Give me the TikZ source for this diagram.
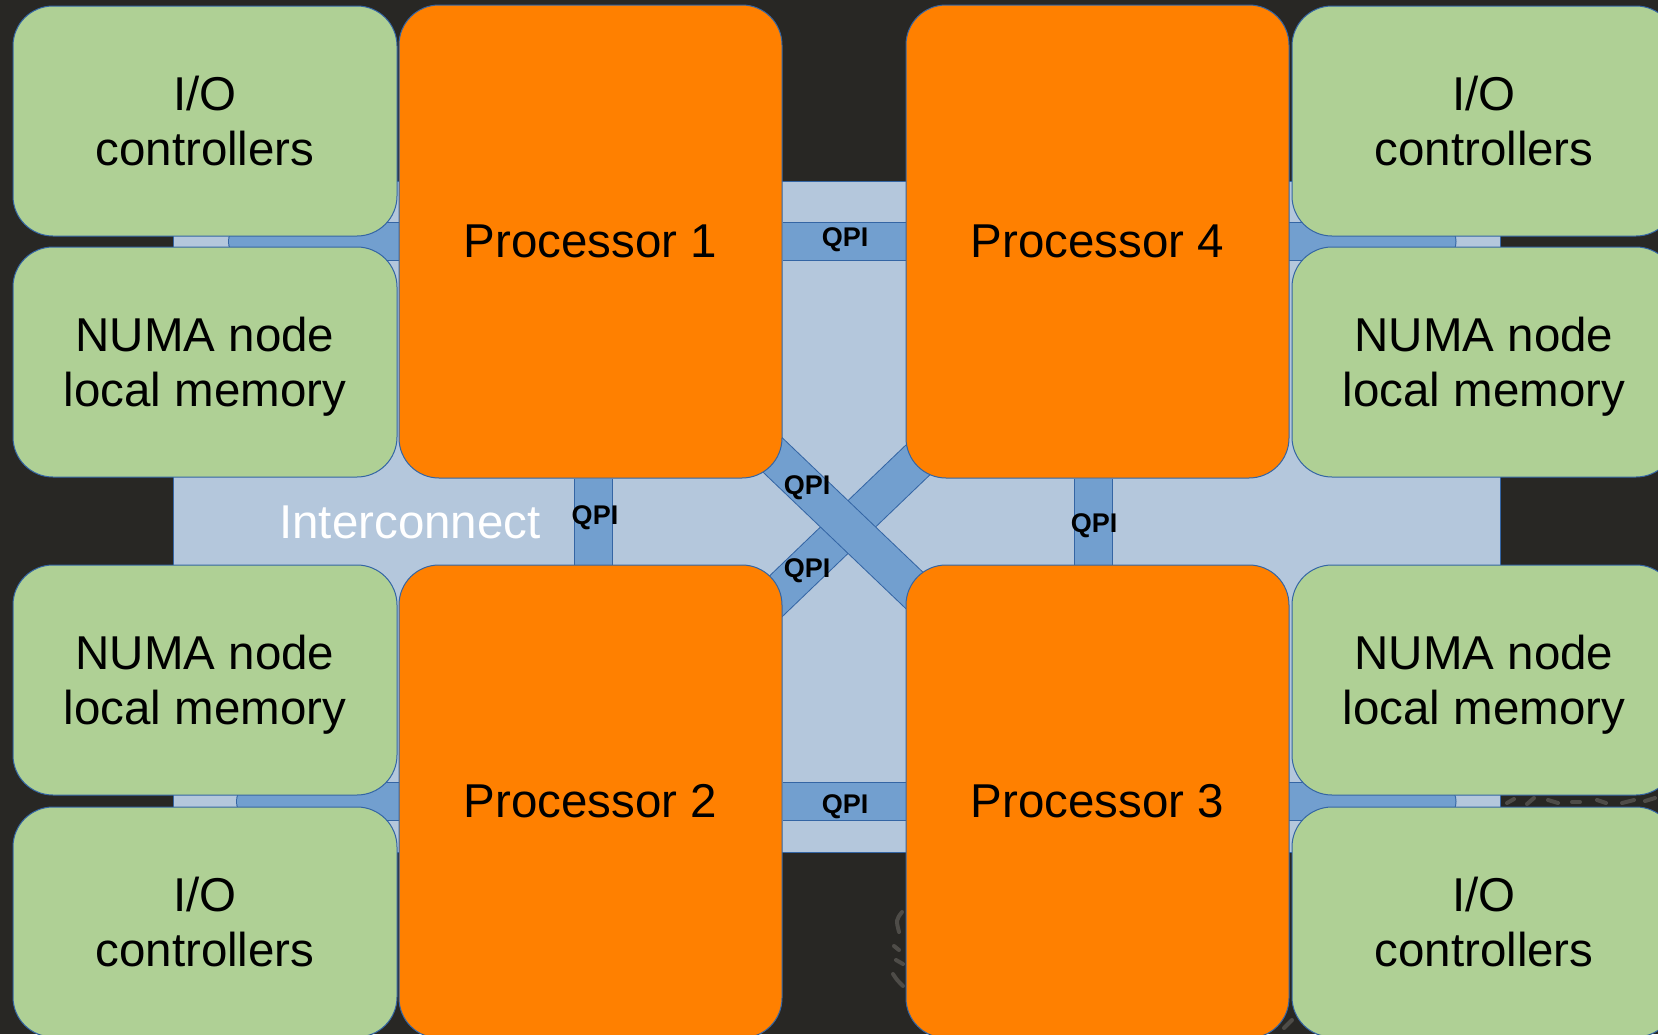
\documentclass[tikz,border=0pt]{standalone}
\usepackage{fontspec}
\setmainfont{Liberation Sans}
\definecolor{bgdark}{HTML}{282724}
\definecolor{swirl}{HTML}{4E4C48}
\definecolor{iclight}{HTML}{B4C7DC}
\definecolor{barblue}{HTML}{729FCF}
\definecolor{lineblue}{HTML}{3465A4}
\definecolor{procor}{HTML}{FF8000}
\definecolor{boxgreen}{HTML}{AFD095}
\newcommand\mybigfont{\fontsize{47.5}{54.5}\selectfont}
\newcommand\myqpifont{\fontsize{27}{31}\selectfont\bfseries}
\pgfdeclarelayer{iclayer}
\pgfdeclarelayer{barlayer}
\pgfsetlayers{iclayer,barlayer,main}
\begin{document}
\begin{tikzpicture}[x=1pt,y=-1pt,
  proc/.style={draw=lineblue, line width=1pt, fill=procor, rounded corners=40pt,
    minimum width=383pt, minimum height=473pt, inner sep=0pt, font=\mybigfont},
  gbox/.style={draw=lineblue, line width=1pt, fill=boxgreen, rounded corners=40pt,
    minimum width=384pt, minimum height=230pt, inner sep=0pt, align=center, font=\mybigfont},
  bar/.style={draw=lineblue, line width=1pt, double=barblue, double distance=37pt},
  qpi/.style={font=\myqpifont, inner sep=0pt, text=black},
  icbox/.style={draw=lineblue, line width=0.8pt, fill=iclight},
  swirlmark/.style={draw=swirl, line width=4pt, line cap=round}
]
\useasboundingbox (0,0) rectangle (1658,1034);

% background, faint background marks and interconnect area
\begin{pgfonlayer}{iclayer}
  \fill[bgdark] (0,0) rectangle (1658,1034);
  \draw[swirlmark] (902,912) .. controls (896,920) .. (899,932);
  \draw[swirlmark] (894,946) -- (899,950);
  \draw[swirlmark] (896,960) -- (903,964);
  \draw[swirlmark] (893,974) .. controls (897,980) .. (903,986);
  \draw[swirlmark] (1507,803) -- (1514,799);
  \draw[swirlmark] (1527,804) -- (1534,798);
  \draw[swirlmark] (1548,800) -- (1558,803);
  \draw[swirlmark] (1572,802) -- (1580,802);
  \draw[swirlmark] (1597,800) -- (1606,803);
  \draw[swirlmark] (1622,803) -- (1634,800);
  \draw[swirlmark] (1645,801) -- (1655,798);
  \draw[swirlmark] (1284,1028) -- (1292,1020);
  \path[icbox] (173,181) rectangle (1500,852);
\end{pgfonlayer}

% processors
\node[proc] (p1) at (590.5,241.5) {\raisebox{-2pt}{Processor 1}};
\node[proc] (p4) at (1097.5,241.5) {\raisebox{-2pt}{Processor 4}};
\node[proc] (p2) at (590.5,801.5) {\raisebox{-2pt}{Processor 2}};
\node[proc] (p3) at (1097.5,801.5) {\raisebox{-2pt}{Processor 3}};

% green boxes
\node[gbox] (io1) at (205,121) {I/O\\controllers};
\node[gbox] (m1) at (205,362) {NUMA node\\local memor\smash{y}};
\node[gbox] (m2) at (205,680) {NUMA node\\local memor\smash{y}};
\node[gbox] (io2) at (205,922) {I/O\\controllers};
\node[gbox] (io4) at (1484,121) {I/O\\controllers};
\node[gbox] (m4) at (1484,362) {NUMA node\\local memor\smash{y}};
\node[gbox] (m3) at (1484,680) {NUMA node\\local memor\smash{y}};
\node[gbox] (io3) at (1484,922) {I/O\\controllers};

\node[font=\mybigfont, text=white, inner sep=0pt, anchor=base] (ic) at (410,538) {Interconnect};

% links
\coordinate (tl) at (247.5,241.5);
\coordinate (tr) at (1437,241.5);
\coordinate (bl) at (255.5,801.5);
\coordinate (br) at (1437,801.5);
\coordinate (d1s) at (735,419);
\coordinate (d1e) at (960,634);
\coordinate (d2s) at (960,419.5);
\coordinate (d2e) at (735,635.5);
\begin{pgfonlayer}{barlayer}
  \draw[bar, line cap=round] (tl) -- (p1);
  \draw[bar, line cap=round] (p4) -- (tr);
  \draw[bar, line cap=round] (bl) -- (p2);
  \draw[bar, line cap=round] (p3) -- (br);
  \draw[bar] (p1) -- (p4);
  \draw[bar] (p2) -- (p3);
  \draw[bar] ([xshift=3pt]p1.south) -- ([xshift=3pt]p2.north);
  \draw[bar] ([xshift=-4pt]p4.south) -- ([xshift=-4pt]p3.north);
  \draw[bar] (d2s) -- (d2e);
  \draw[bar] (d1s) -- (d1e);
\end{pgfonlayer}

% QPI labels
\node[qpi] (q14) at (845,240) {QPI};
\node[qpi] (q23) at (845,807) {QPI};
\node[qpi] (q12) at (595,518) {QPI};
\node[qpi] (q43) at (1094,526) {QPI};
\node[qpi] (q13) at (807,488) {QPI};
\node[qpi] (q42) at (807,571) {QPI};
\end{tikzpicture}
\end{document}
